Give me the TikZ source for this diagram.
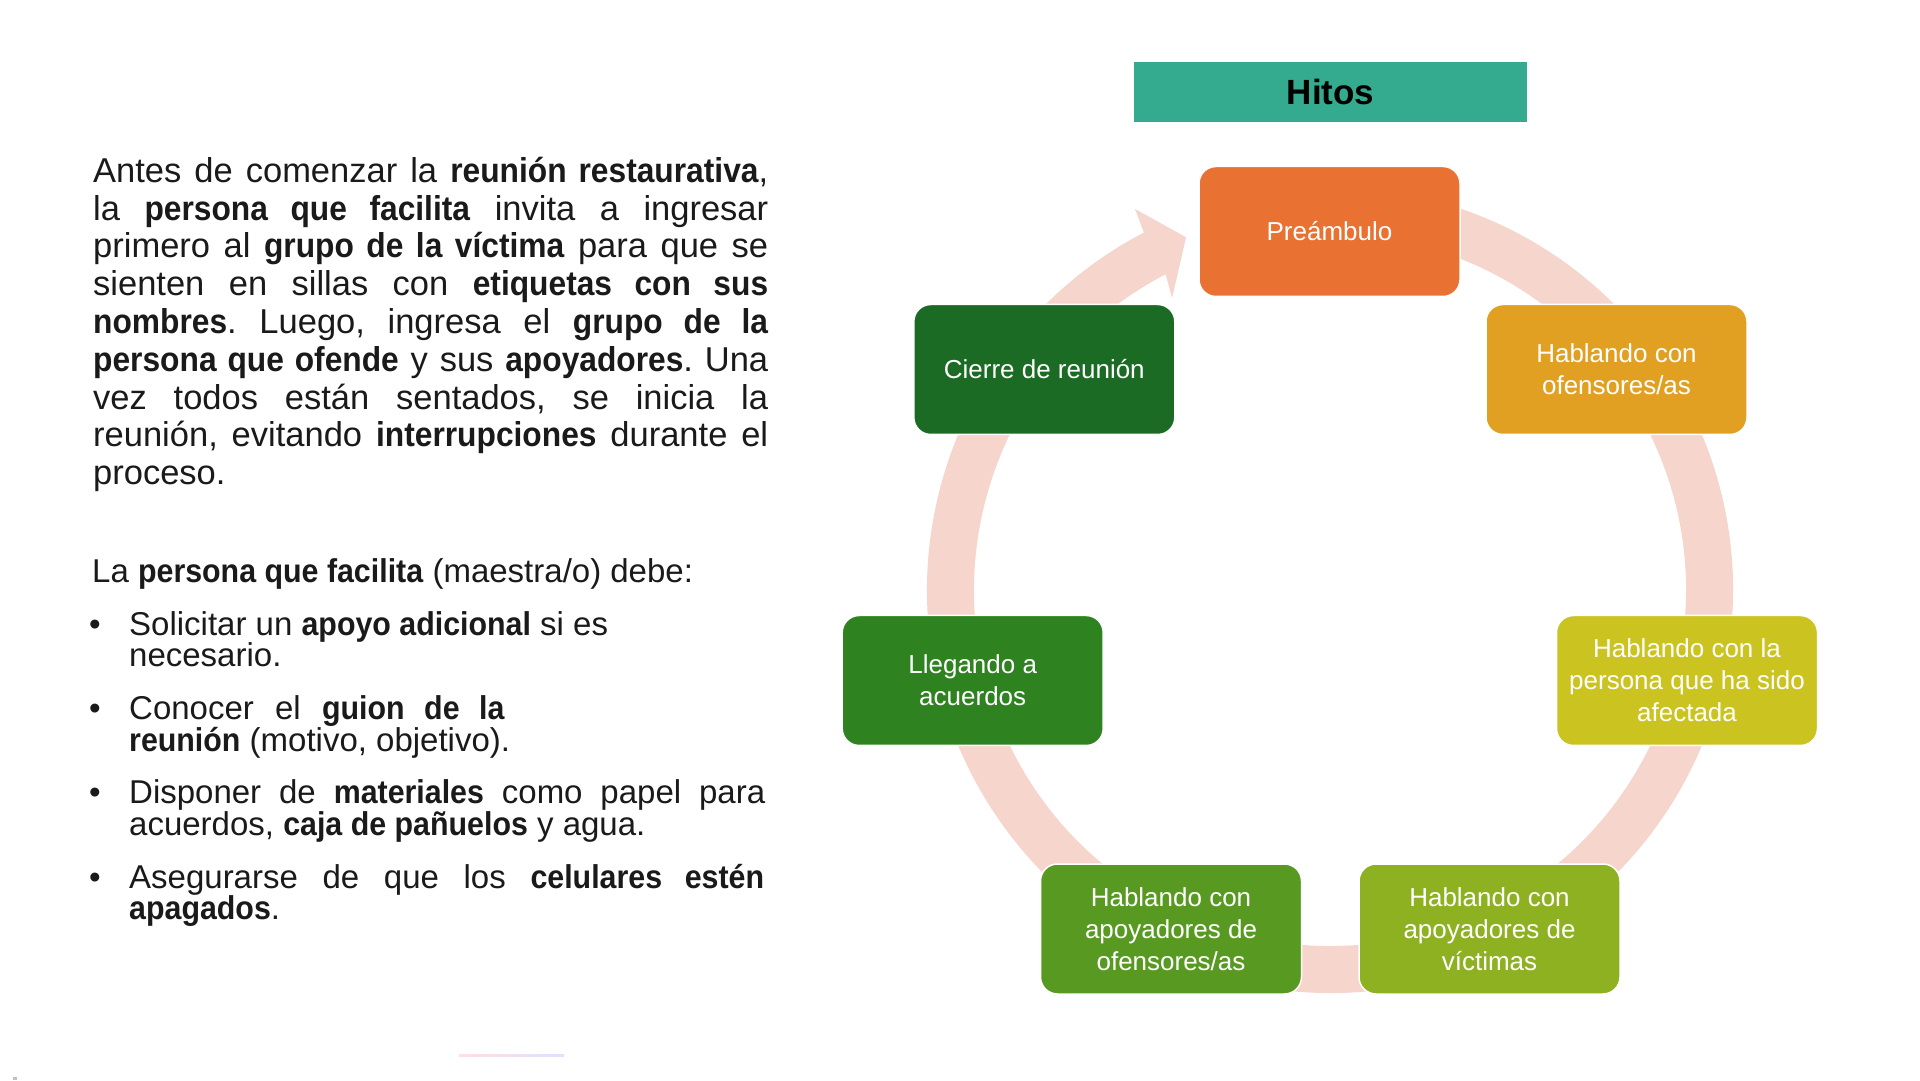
\documentclass[tikz,border=0pt]{standalone}
\usepackage{fontspec}
\setmainfont{Liberation Sans}[BoldFeatures={FakeStretch=0.92}]
\newfontfamily\titlefont{Liberation Sans}
\frenchspacing
\definecolor{ringpink}{HTML}{F6D5CD}
\definecolor{cPre}{HTML}{E97132}
\definecolor{cOfe}{HTML}{E2A023}
\definecolor{cAfe}{HTML}{CBC320}
\definecolor{cVic}{HTML}{8EB122}
\definecolor{cApo}{HTML}{589A21}
\definecolor{cLle}{HTML}{2E821F}
\definecolor{cCie}{HTML}{1B6B25}
\definecolor{cHitos}{HTML}{34AA8E}
\definecolor{txt}{HTML}{1A1A1A}
\tikzset{
  hitosbar/.style={fill=cHitos, minimum width=393pt, minimum height=60pt, inner sep=0pt,
    text=black, font={\titlefont\bfseries\fontsize{35}{40}\selectfont}},
  stagebox/.style={draw=white, line width=1.5pt, rounded corners=17pt, minimum width=261pt,
    minimum height=130pt, inner sep=0pt, align=center, text=white,
    font={\fontsize{26}{32}\selectfont}},
  bodyline/.style={anchor=base west, inner sep=0pt, text=txt, font={\fontsize{34.5}{37}\selectfont}},
  listline/.style={anchor=base west, inner sep=0pt, text=txt, font={\fontsize{33}{37}\selectfont}},
  bulletmark/.style={anchor=base, inner sep=0pt, text=txt, font={\fontsize{33}{37}\selectfont}},
}
\begin{document}
\begin{tikzpicture}[x=1pt,y=1pt]
\useasboundingbox (0,0) rectangle (1920,1080);
\fill[white] (0,0) rectangle (1920,1080);

% ---------- left text ----------
\node[bodyline] (p1) at (93,897.7) {\makebox[675pt][s]{Antes de comenzar la \textbf{reunión restaurativa},}};
\node[bodyline] (p2) at (93,859.9) {\makebox[675pt][s]{la \textbf{persona que facilita} invita a ingresar}};
\node[bodyline] (p3) at (93,822.1) {\makebox[675pt][s]{primero al \textbf{grupo de la víctima} para que se}};
\node[bodyline] (p4) at (93,784.3) {\makebox[675pt][s]{sienten en sillas con \textbf{etiquetas con sus}}};
\node[bodyline] (p5) at (93,746.5) {\makebox[675pt][s]{\textbf{nombres}. Luego, ingresa el \textbf{grupo de la}}};
\node[bodyline] (p6) at (93,708.7) {\makebox[675pt][s]{\textbf{persona que ofende} y sus \textbf{apoyadores}. Una}};
\node[bodyline] (p7) at (93,670.9) {\makebox[675pt][s]{vez todos están sentados, se inicia la}};
\node[bodyline] (p8) at (93,633.1) {\makebox[675pt][s]{reunión, evitando \textbf{interrupciones} durante el}};
\node[bodyline] (p9) at (93,595.3) {proceso.};

\node[listline] (lead) at (92,497) {La \textbf{persona que facilita} (maestra/o) debe:};

\node[bulletmark] (b1) at (95,444.5) {•};
\node[listline] (l1a) at (129,444.5) {Solicitar un \textbf{apoyo adicional} si es};
\node[listline] (l1b) at (129,413) {necesario.};

\node[bulletmark] (b2) at (95,360) {•};
\node[listline] (l2a) at (129,360) {\makebox[375.5pt][s]{Conocer el \textbf{guion de la}}};
\node[listline] (l2b) at (129,328) {\textbf{reunión} (motivo, objetivo).};

\node[bulletmark] (b3) at (95,276.7) {•};
\node[listline] (l3a) at (129,276.7) {\makebox[636pt][s]{Disponer de \textbf{materiales} como papel para}};
\node[listline] (l3b) at (129,245) {acuerdos, \textbf{caja de pañuelos} y agua.};

\node[bulletmark] (b4) at (95,192) {•};
\node[listline] (l4a) at (129,192) {\makebox[635pt][s]{Asegurarse de que los \textbf{celulares estén}}};
\node[listline] (l4b) at (129,160.3) {\textbf{apagados}.};

% ---------- title ----------
\node[hitosbar] (hitos) at (1330.5,988) {Hitos};

% ---------- cycle ring with arrowhead ----------
\begin{scope}[shift={(1330,490)}]
\fill[ringpink] (80:403) arc[start angle=80, end angle=-242.5, radius=403]
  -- (117.1:428) -- (112.2:381) -- (118.4:332) -- (117.5:356)
  arc[start angle=-242.5, end angle=80, radius=356] -- cycle;
\end{scope}

% ---------- stages ----------
\node[stagebox, fill=cPre] (pre) at (1329.5,848.5) {Preámbulo};
\node[stagebox, fill=cOfe] (ofe) at (1616.5,710.5) {Hablando con\\ofensores/as};
\node[stagebox, fill=cAfe] (afe) at (1687,399.5) {Hablando con la\\persona que ha sido\\afectada};
\node[stagebox, fill=cVic] (vic) at (1489.5,151) {Hablando con\\apoyadores de\\víctimas};
\node[stagebox, fill=cApo] (apo) at (1171,151) {Hablando con\\apoyadores de\\ofensores/as};
\node[stagebox, fill=cLle] (lle) at (972.7,399.5) {Llegando a\\acuerdos};
\node[stagebox, fill=cCie] (cie) at (1044.3,710.5) {Cierre de reunión};

% ---------- faint marks at the bottom ----------
\shade[left color=red!12, right color=blue!12] (459,24) rectangle (564,26);
\fill[blue!40!orange!40] (13,0) rectangle (17,3);
\end{tikzpicture}
\end{document}
